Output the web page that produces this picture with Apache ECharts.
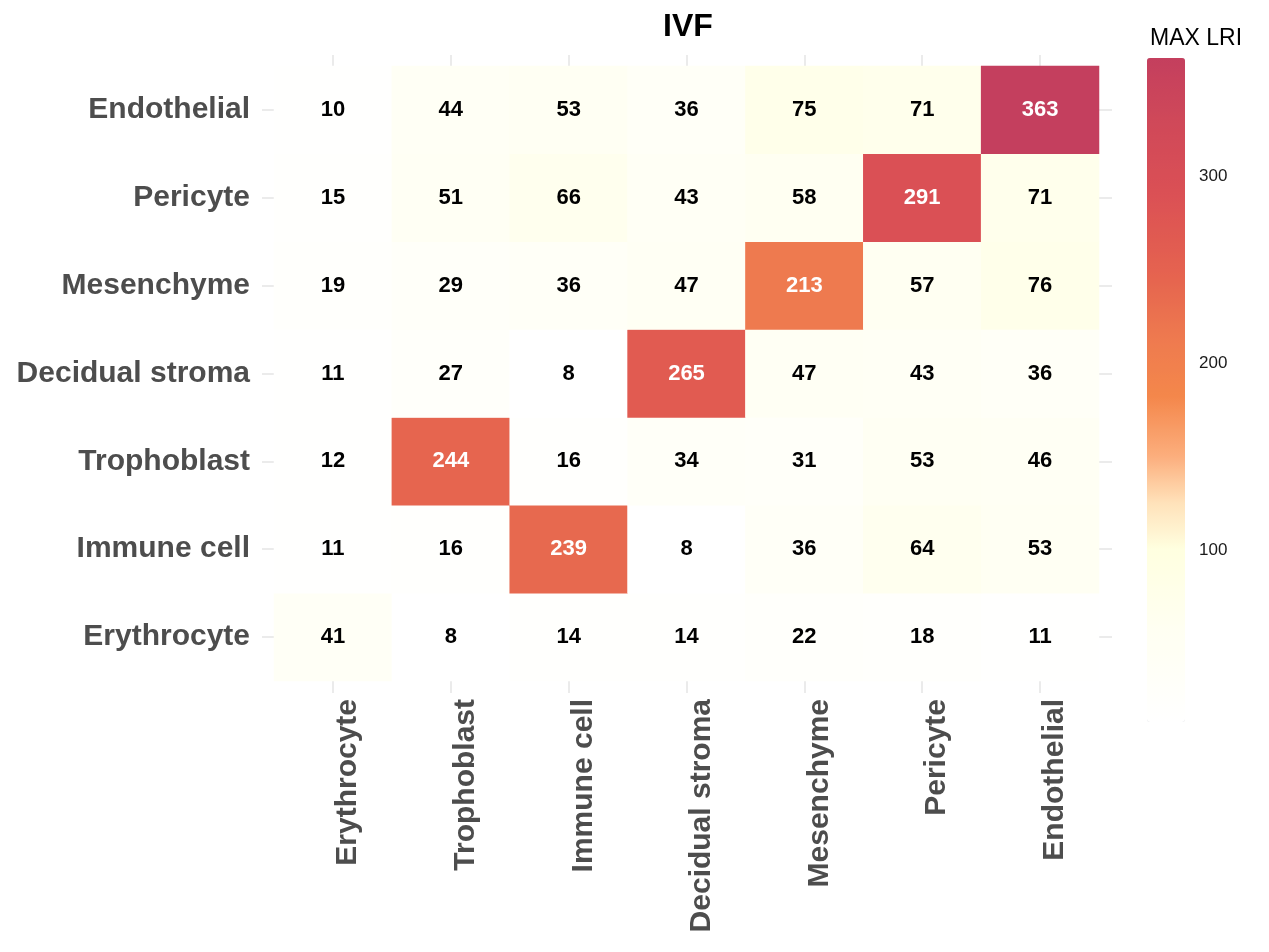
<!DOCTYPE html>
<html>
<head>
<meta charset="utf-8">
<script src="https://cdn.jsdelivr.net/npm/echarts@6.0.0/dist/echarts.min.js"></script>
<style>
  html, body { margin: 0; padding: 0; background: #fff; }
  #chart { width: 1269px; height: 952px; }
</style>
</head>
<body>
<div id="chart"></div>
<script>
// categories
var xCats = ['Erythrocyte', 'Trophoblast', 'Immune cell', 'Decidual stroma', 'Mesenchyme', 'Pericyte', 'Endothelial'];
var yCats = ['Erythrocyte', 'Immune cell', 'Trophoblast', 'Decidual stroma', 'Mesenchyme', 'Pericyte', 'Endothelial'];

// values per row (y category), in xCats order
var rowEndothelial = [10, 44, 53, 36, 75, 71, 363];
var rowPericyte = [15, 51, 66, 43, 58, 291, 71];
var rowMesenchyme = [19, 29, 36, 47, 213, 57, 76];
var rowDecidual = [11, 27, 8, 265, 47, 43, 36];
var rowTrophoblast = [12, 244, 16, 34, 31, 53, 46];
var rowImmune = [11, 16, 239, 8, 36, 64, 53];
var rowErythrocyte = [41, 8, 14, 14, 22, 18, 11];

// legend ticks
var legendTicks = [100, 200, 300];

var rows = [rowErythrocyte, rowImmune, rowTrophoblast, rowDecidual, rowMesenchyme, rowPericyte, rowEndothelial];

var vMin = 8, vMax = 363;

// colour anchors of the fill scale
var anchors = [
  [8, '#FFFFFF'], [60, '#FFFFF1'], [100, '#FFFFE0'], [125, '#FFE2BA'],
  [150, '#FCAE7D'], [182, '#F4874B'], [213, '#EE7A4F'], [244, '#E6654F'],
  [265, '#E15B51'], [291, '#DA5055'], [330, '#CF4859'], [363, '#C43F5E']
];
function hex(c) { return [parseInt(c.substr(1, 2), 16), parseInt(c.substr(3, 2), 16), parseInt(c.substr(5, 2), 16)]; }
function colorAt(v) {
  for (var i = 1; i < anchors.length; i++) {
    if (v <= anchors[i][0]) {
      var a = anchors[i - 1], b = anchors[i];
      var t = (v - a[0]) / (b[0] - a[0]);
      var ca = hex(a[1]), cb = hex(b[1]);
      return 'rgb(' + ca.map(function (x, k) { return Math.round(x + (cb[k] - x) * t); }).join(',') + ')';
    }
  }
  return anchors[anchors.length - 1][1];
}
var ramp = [];
for (var i = 0; i <= 100; i++) ramp.push(colorAt(vMin + (vMax - vMin) * i / 100));

var data = [];
rows.forEach(function (r, yi) {
  r.forEach(function (v, xi) {
    data.push({ value: [xi, yi, v], label: { color: v > 200 ? '#ffffff' : '#000000' } });
  });
});

var font = '"Liberation Sans", Arial, sans-serif';
var gridCol = '#EBEBEB';

var myChart = echarts.init(document.getElementById('chart'));
var option = {
  backgroundColor: '#ffffff',
  animation: false,
  title: [
    {
      text: 'IVF', left: 683, top: 6, textAlign: 'center',
      textStyle: { fontFamily: font, fontWeight: 'bold', fontSize: 32, color: '#000' }
    },
    {
      text: 'MAX LRI', left: 1145, top: 22,
      textStyle: { fontFamily: font, fontWeight: 'normal', fontSize: 23, color: '#000' }
    }
  ],
  grid: [
    { left: 274, right: 170, top: 66, bottom: 271 },
    { left: 1147, top: 58, width: 38, height: 664 }
  ],
  xAxis: [
    {
      type: 'category', data: xCats, gridIndex: 0, position: 'bottom',
      axisLine: { show: false },
      axisTick: { show: true, alignWithLabel: true, length: 12, lineStyle: { color: gridCol, width: 2 } },
      splitLine: { show: false },
      axisLabel: { rotate: 90, margin: 18, align: 'right', verticalAlign: 'top', fontFamily: font, fontWeight: 'bold', fontSize: 30, color: '#4D4D4D' }
    },
    {
      type: 'category', data: xCats, gridIndex: 0, position: 'top',
      axisLine: { show: false },
      axisTick: { show: true, alignWithLabel: true, length: 11, lineStyle: { color: gridCol, width: 2 } },
      axisLabel: { show: false }
    },
    {
      type: 'value', gridIndex: 1, min: 0, max: 1, show: false
    }
  ],
  yAxis: [
    {
      type: 'category', data: yCats, gridIndex: 0, position: 'left',
      axisLine: { show: false },
      axisTick: { show: true, alignWithLabel: true, length: 12, lineStyle: { color: gridCol, width: 2 } },
      splitLine: { show: false },
      axisLabel: { margin: 24, padding: [4, 0, 0, 0], fontFamily: font, fontWeight: 'bold', fontSize: 30, color: '#4D4D4D' }
    },
    {
      type: 'category', data: yCats, gridIndex: 0, position: 'right',
      axisLine: { show: false },
      axisTick: { show: true, alignWithLabel: true, length: 13, lineStyle: { color: gridCol, width: 2 } },
      axisLabel: { show: false }
    },
    {
      type: 'value', gridIndex: 1, min: vMin, max: vMax, position: 'right',
      axisLine: { show: false },
      splitLine: { show: false },
      axisTick: { show: true, inside: true, length: 8, customValues: legendTicks, lineStyle: { color: 'rgba(255,255,255,0.8)', width: 1.5 } },
      axisLabel: { show: true, margin: 14, customValues: legendTicks, fontFamily: font, fontSize: 17, color: '#1A1A1A' }
    },
    {
      type: 'value', gridIndex: 1, min: vMin, max: vMax, position: 'left',
      axisLine: { show: false },
      splitLine: { show: false },
      axisTick: { show: true, inside: true, length: 8, customValues: legendTicks, lineStyle: { color: 'rgba(255,255,255,0.8)', width: 1.5 } },
      axisLabel: { show: false }
    }
  ],
  visualMap: {
    type: 'continuous', min: vMin, max: vMax, calculable: false,
    orient: 'vertical', left: 1147, top: 58, itemWidth: 38, itemHeight: 664,
    padding: 0, text: null, showLabel: false, hoverLink: false,
    seriesIndex: 0, z: 1,
    inRange: { color: ramp }
  },
  series: [
    {
      type: 'heatmap', xAxisIndex: 0, yAxisIndex: 0,
      data: data,
      label: { show: true, fontFamily: font, fontWeight: 'bold', fontSize: 22, formatter: function (p) { return p.value[2]; } },
      itemStyle: { borderWidth: 0 },
      emphasis: { disabled: true }
    },
    {
      type: 'line', xAxisIndex: 2, yAxisIndex: 2, data: [], silent: true
    }
  ]
};
myChart.setOption(option);
</script>
</body>
</html>
